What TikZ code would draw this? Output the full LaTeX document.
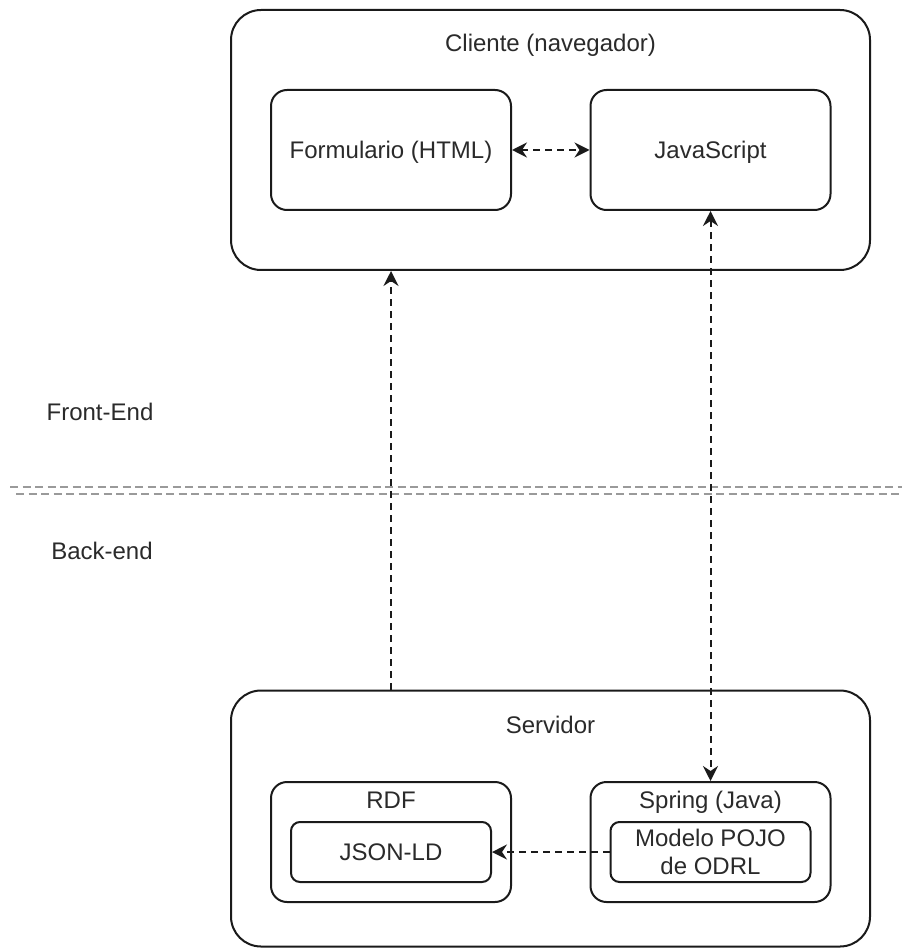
\documentclass[tikz,border=0pt]{standalone}
\usepackage{fontspec}
\setmainfont{Liberation Sans}
\usetikzlibrary{arrows.meta,calc}
\definecolor{linec}{HTML}{1A1A1A}
\definecolor{textc}{HTML}{2A2A2A}
\definecolor{divc}{HTML}{9A9A9A}
\tikzset{
  box/.style={draw=linec, line width=2pt, inner sep=0pt, fill=none},
  outerbox/.style={box, rounded corners=30pt, minimum width=639pt},
  midbox/.style={box, rounded corners=16pt, minimum width=240pt, minimum height=120pt},
  innerbox/.style={box, rounded corners=9pt, minimum width=200pt, minimum height=60pt},
  lbl/.style={font=\fontsize{24}{28}\selectfont, text=textc, anchor=base, inner sep=0pt},
  conn/.style={draw=linec, line width=2pt, dash pattern=on 7pt off 5pt,
    arrows={-Stealth[length=15pt,width=15pt,inset=5pt]}},
  bconn/.style={conn, arrows={Stealth[length=15pt,width=15pt,inset=5pt]-Stealth[length=15pt,width=15pt,inset=5pt]}},
  divline/.style={draw=divc, line width=2pt, dash pattern=on 8pt off 4.5pt}
}
\begin{document}
\begin{tikzpicture}[x=1pt,y=-1pt]
\useasboundingbox (0,0) rectangle (902,949);
% client side
\node[outerbox, minimum height=260pt] (cli) at (550.5,140) {};
\node[midbox] (form) at (391,150) {};
\node[midbox] (js) at (710.5,150) {};
\node[lbl] (clit) at (550.5,52) {Cliente (navegador)};
\node[lbl] (formt) at (391,159) {Formulario (HTML)};
\node[lbl] (jst) at (710.5,159) {JavaScript};
% server side
\node[outerbox, minimum height=256pt] (serv) at (550.5,818.5) {};
\node[midbox] (rdf) at (391,842) {};
\node[midbox] (spring) at (710.5,842) {};
\node[innerbox] (json) at (391,852) {};
\node[innerbox] (pojo) at (710.5,852) {};
\node[lbl] (servt) at (550.5,733) {Servidor};
\node[lbl] (rdft) at (391,808) {RDF};
\node[lbl] (springt) at (710.5,808) {Spring (Java)};
\node[lbl] (jsont) at (391,860) {JSON-LD};
\node[lbl] (pojot1) at (710.5,846) {Modelo POJO};
\node[lbl] (pojot2) at (710.5,874) {de ODRL};
% layer labels
\node[lbl] (fe) at (100,420) {Front-End};
\node[lbl] (be) at (102,559) {Back-end};
% divider
\draw[divline] (10,487) -- (902,487);
\draw[divline] (16,494) -- (902,494);
% connectors
\draw[bconn] (form.east) -- (js.west);
\draw[conn] (serv.north -| form.south) -- (cli.south -| form.south);
\draw[bconn] (js.south) -- (spring.north);
\draw[conn] (pojo.west) -- (json.east);
\end{tikzpicture}
\end{document}
